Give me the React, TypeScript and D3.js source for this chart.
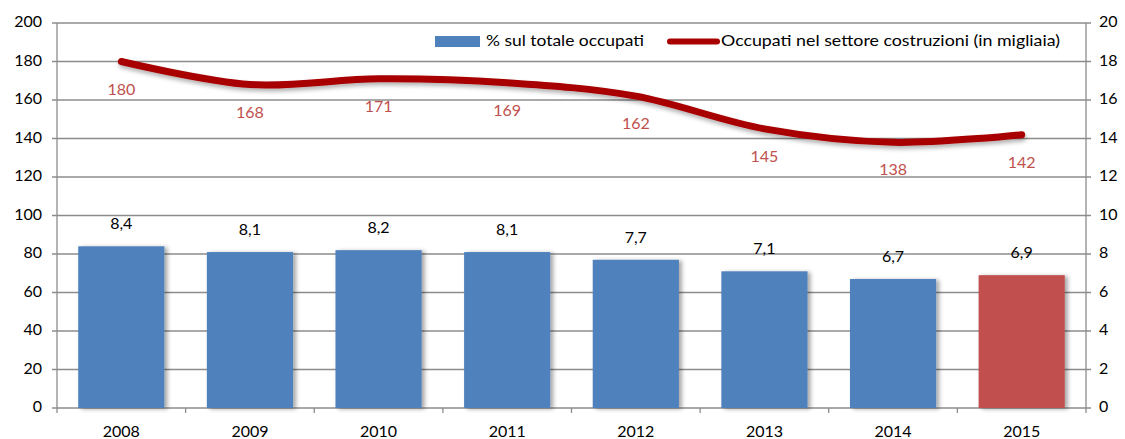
import React from "react";
import * as d3 from "d3";

const years = ["2008", "2009", "2010", "2011", "2012", "2013", "2014", "2015"];
const sharePct = [8.4, 8.1, 8.2, 8.1, 7.7, 7.1, 6.7, 6.9];
const employed = [180, 168, 171, 169, 162, 145, 138, 142];
const leftTicks = [0, 20, 40, 60, 80, 100, 120, 140, 160, 180, 200];
const rightTicks = [0, 2, 4, 6, 8, 10, 12, 14, 16, 18, 20];
const legendLabels = ["% sul totale occupati", "Occupati nel settore costruzioni (in migliaia)"];

const W = 1125;
const H = 439;
const margin = { top: 23, right: 39, bottom: 31, left: 57 };
const FONT = "Lato, 'Open Sans', sans-serif";

const App = () => {
  const innerW = W - margin.left - margin.right;
  const innerH = H - margin.top - margin.bottom;

  const x = d3.scaleBand().domain(years).range([0, innerW]).paddingInner(0.33).paddingOuter(0.165);
  const xPoint = (d: string) => x(d)! + x.bandwidth() / 2;
  const yLeft = d3.scaleLinear().domain([0, 200]).range([innerH, 0]);
  const yRight = d3.scaleLinear().domain([0, 20]).range([innerH, 0]);
  const step = innerW / years.length;

  // smoothed line like the spreadsheet's "smoothed line" option
  const line = d3
    .line<number>()
    .x((_, i) => xPoint(years[i]))
    .y((d) => yLeft(d))
    .curve(d3.curveCardinal.tension(0));

  const grid = "#8c8c8c";

  return (
    <svg width={W} height={H} style={{ position: "absolute", left: 0, top: 0, background: "#fff" }} fontFamily={FONT}>
      <defs>
        <filter id="barShadow" x="-10%" y="-10%" width="130%" height="120%">
          <feDropShadow dx="3" dy="1" stdDeviation="2" floodColor="#000" floodOpacity="0.35" />
        </filter>
        <filter id="lineShadow" x="-5%" y="-20%" width="110%" height="150%">
          <feDropShadow dx="1" dy="3" stdDeviation="2" floodColor="#000" floodOpacity="0.3" />
        </filter>
      </defs>
      <g transform={`translate(${margin.left},${margin.top})`}>
        {/* gridlines + axis lines */}
        {leftTicks.map((t) => (
          <line key={t} x1={-5} x2={innerW + 5} y1={yLeft(t)} y2={yLeft(t)} stroke={grid} strokeWidth={1.3} />
        ))}
        <line x1={0} x2={0} y1={0} y2={innerH} stroke={grid} strokeWidth={1.3} />
        <line x1={innerW} x2={innerW} y1={0} y2={innerH} stroke={grid} strokeWidth={1.3} />
        {d3.range(years.length + 1).map((i) => (
          <line key={i} x1={i * step} x2={i * step} y1={innerH} y2={innerH + 5} stroke={grid} strokeWidth={1.3} />
        ))}

        {/* bars */}
        {years.map((yr, i) => (
          <rect
            key={yr}
            x={x(yr)}
            y={yRight(sharePct[i])}
            width={x.bandwidth()}
            height={innerH - yRight(sharePct[i])}
            fill={i === years.length - 1 ? "#c0504d" : "#4f81bd"}
            filter="url(#barShadow)"
          />
        ))}
        {years.map((yr, i) => (
          <text
            key={yr}
            x={xPoint(yr)}
            y={yRight(sharePct[i]) - 21}
            textAnchor="middle"
            dominantBaseline="middle"
            fontSize={16}
            fill="#000"
          >
            {String(sharePct[i]).replace(".", ",")}
          </text>
        ))}

        {/* line */}
        <path d={line(employed) || ""} fill="none" stroke="#a80000" strokeWidth={7} strokeLinecap="round" filter="url(#lineShadow)" />
        {years.map((yr, i) => (
          <text
            key={yr}
            x={xPoint(yr)}
            y={yLeft(employed[i]) + 29}
            textAnchor="middle"
            dominantBaseline="middle"
            fontSize={16}
            fill="#c0504d"
          >
            {employed[i]}
          </text>
        ))}

        {/* tick labels */}
        {leftTicks.map((t) => (
          <text key={t} x={-15} y={yLeft(t)} textAnchor="end" dominantBaseline="middle" fontSize={16} fill="#000">
            {t}
          </text>
        ))}
        {rightTicks.map((t) => (
          <text key={t} x={innerW + 13} y={yRight(t)} textAnchor="start" dominantBaseline="middle" fontSize={16} fill="#000">
            {t}
          </text>
        ))}
        {years.map((yr) => (
          <text key={yr} x={xPoint(yr)} y={innerH + 25} textAnchor="middle" dominantBaseline="middle" fontSize={16} fill="#000">
            {yr}
          </text>
        ))}
      </g>

      {/* legend */}
      <g fontSize={16} fill="#000">
        <rect x={435} y={36} width={45} height={11} fill="#4f81bd" />
        <text x={486} y={42} dominantBaseline="middle" textLength={158} lengthAdjust="spacingAndGlyphs">
          {legendLabels[0]}
        </text>
        <line x1={670} x2={717} y1={41.5} y2={41.5} stroke="#a80000" strokeWidth={6} strokeLinecap="round" />
        <text x={721} y={42} dominantBaseline="middle" textLength={339} lengthAdjust="spacingAndGlyphs">
          {legendLabels[1]}
        </text>
      </g>
    </svg>
  );
};

export default App;
